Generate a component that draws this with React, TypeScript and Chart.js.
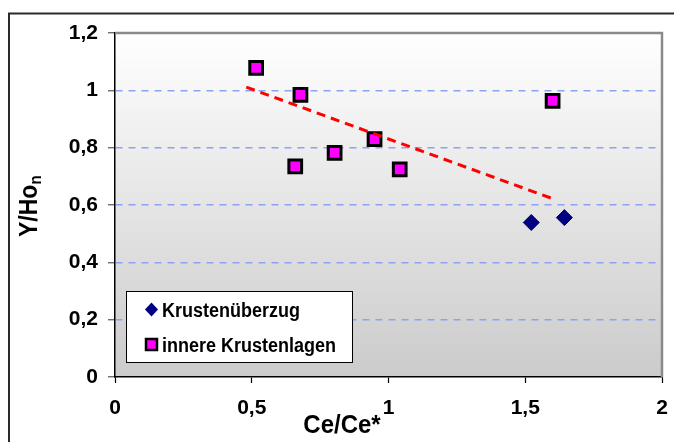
import React, { useEffect, useRef } from "react";
import { Chart, registerables } from "chart.js";

Chart.register(...registerables);

const seriesLabels = ["Krustenüberzug", "innere Krustenlagen"];
const krusteX = [1.522, 1.643];
const krusteY = [0.539, 0.556];
const innereX = [0.516, 0.678, 0.659, 0.803, 0.949, 1.041, 1.6];
const innereY = [1.078, 0.984, 0.735, 0.782, 0.83, 0.724, 0.963];
const trendX = [0.48, 1.6];
const trendY = [1.011, 0.622];
const xTicks = [0, 0.5, 1, 1.5, 2];
const yTicks = [0, 0.2, 0.4, 0.6, 0.8, 1, 1.2];
const xTitle = "Ce/Ce*";
const yTitleMain = "Y/Ho";
const yTitleSub = "n";

const FONT = "'Liberation Sans', Arial, sans-serif";
const fmt = (v: number) => String(v).replace(".", ",");
const pts = (xs: number[], ys: number[]) => xs.map((x, i) => ({ x, y: ys[i] }));

const decor = {
  id: "decor",
  beforeDraw(chart: any) {
    const { ctx, chartArea: a } = chart;
    ctx.save();
    ctx.fillStyle = "#ffffff";
    ctx.fillRect(0, 0, chart.width, chart.height);
    const g = ctx.createLinearGradient(0, a.top, 0, a.bottom);
    g.addColorStop(0, "#ffffff");
    g.addColorStop(1, "#cbcbcb");
    ctx.fillStyle = g;
    ctx.fillRect(a.left, a.top, a.right - a.left, a.bottom - a.top);
    ctx.restore();
  },
  beforeDatasetsDraw(chart: any) {
    const { ctx, chartArea: a } = chart;
    ctx.save();
    ctx.strokeStyle = "#8a8a8a";
    ctx.lineWidth = 2.5;
    ctx.beginPath();
    ctx.moveTo(a.left, a.top);
    ctx.lineTo(a.right, a.top);
    ctx.lineTo(a.right, a.bottom);
    ctx.stroke();
    ctx.restore();
  },
  afterDraw(chart: any) {
    const { ctx } = chart;
    ctx.save();
    // legend
    const lx = 126, ly = 291, lw = 226, lh = 71;
    ctx.fillStyle = "#ffffff";
    ctx.fillRect(lx, ly, lw, lh);
    ctx.strokeStyle = "#000000";
    ctx.lineWidth = 1;
    ctx.strokeRect(lx + 0.5, ly + 0.5, lw, lh);
    // diamond
    ctx.fillStyle = "#000080";
    ctx.beginPath();
    ctx.moveTo(151.5, 302.5);
    ctx.lineTo(158, 309.5);
    ctx.lineTo(151.5, 316.5);
    ctx.lineTo(145, 309.5);
    ctx.closePath();
    ctx.fill();
    // square
    ctx.fillStyle = "#ff00ff";
    ctx.fillRect(146, 339, 11, 11);
    ctx.strokeStyle = "#000000";
    ctx.lineWidth = 2.5;
    ctx.strokeRect(146, 339, 11, 11);
    ctx.fillStyle = "#000000";
    ctx.textAlign = "left";
    ctx.textBaseline = "alphabetic";
    const drawStretched = (t: string, x: number, y: number, font: string, sy: number) => {
      ctx.save();
      ctx.font = font;
      ctx.translate(x, y);
      ctx.scale(1, sy);
      ctx.fillText(t, 0, 0);
      ctx.restore();
    };
    drawStretched(seriesLabels[0], 162, 316.5, `bold 18px ${FONT}`, 1.08);
    drawStretched(seriesLabels[1], 162, 351.5, `bold 18px ${FONT}`, 1.08);

    // x title
    ctx.textAlign = "center";
    drawStretched(xTitle, 342, 433, `bold 24px ${FONT}`, 1.08);

    // y title with subscript
    ctx.save();
    ctx.translate(37, 237);
    ctx.rotate(-Math.PI / 2);
    ctx.scale(1, 1.1);
    ctx.textAlign = "left";
    ctx.font = `bold 23px ${FONT}`;
    ctx.fillText(yTitleMain, 0, 0);
    const w = ctx.measureText(yTitleMain).width;
    ctx.font = `bold 15px ${FONT}`;
    ctx.fillText(yTitleSub, w, 4);
    ctx.restore();

    // outer frame
    ctx.strokeStyle = "#2a2a2a";
    ctx.lineWidth = 2;
    ctx.beginPath();
    ctx.moveTo(9, chart.height + 5);
    ctx.lineTo(9, 13.5);
    ctx.lineTo(chart.width + 5, 13.5);
    ctx.stroke();
    ctx.restore();
  },
};

export default function App() {
  const ref = useRef<HTMLCanvasElement>(null);
  useEffect(() => {
    if (!ref.current) return;
    const chart = new Chart(ref.current, {
      type: "scatter",
      data: {
        datasets: [
          {
            type: "line",
            label: "Trend",
            data: pts(trendX, trendY),
            borderColor: "#ff0000",
            borderWidth: 3,
            borderDash: [9, 6],
            pointRadius: 0,
            fill: false,
          } as any,
          {
            label: seriesLabels[0],
            data: pts(krusteX, krusteY),
            pointStyle: "rectRot",
            pointRadius: 8,
            backgroundColor: "#000080",
            borderColor: "#000080",
            borderWidth: 1,
          },
          {
            label: seriesLabels[1],
            data: pts(innereX, innereY),
            pointStyle: "rect",
            pointRadius: 9,
            backgroundColor: "#ff00ff",
            borderColor: "#000000",
            borderWidth: 3,
          },
        ],
      },
      options: {
        animation: false,
        responsive: false,
        events: [],
        layout: { padding: { top: 33, right: 12, left: 0, bottom: 0 } },
        plugins: { legend: { display: false }, tooltip: { enabled: false } },
        scales: {
          x: {
            type: "linear",
            min: 0,
            max: 2,
            afterBuildTicks: (s: any) => {
              s.ticks = xTicks.map((v) => ({ value: v }));
            },
            afterFit: (s: any) => {
              s.height = 65;
              s.paddingLeft = 0;
              s.paddingRight = 0;
            },
            ticks: {
              callback: (v: any) => fmt(Number(v)),
              font: { family: FONT, size: 21, weight: "bold" },
              color: "#000000",
              padding: 13,
              maxRotation: 0,
            },
            grid: {
              drawOnChartArea: false,
              drawTicks: true,
              tickLength: 6,
              tickColor: "#000000",
              tickWidth: 1.2,
            },
            border: { display: true, color: "#000000", width: 1.5 },
          },
          y: {
            type: "linear",
            min: 0,
            max: 1.2,
            afterBuildTicks: (s: any) => {
              s.ticks = yTicks.map((v) => ({ value: v }));
            },
            afterFit: (s: any) => {
              s.width = 115;
              s.paddingTop = 0;
              s.paddingBottom = 0;
            },
            ticks: {
              callback: (v: any) => fmt(Number(v)),
              font: { family: FONT, size: 21, weight: "bold" },
              color: "#000000",
              padding: 10,
            },
            grid: {
              drawOnChartArea: true,
              drawTicks: true,
              tickLength: 7,
              tickColor: "#555555",
              tickWidth: 1.2,
              lineWidth: 1.5,
              color: (c: any) =>
                c.tick && (c.tick.value === 0 || c.tick.value === 1.2)
                  ? "rgba(0,0,0,0)"
                  : "#8ca2f2",
            },
            border: { display: true, color: "#000000", width: 1.5, dash: [7, 6] },
          },
        },
      },
      plugins: [decor],
    });
    return () => chart.destroy();
  }, []);
  return (
    <div style={{ position: "fixed", left: 0, top: 0, width: 674, height: 442 }}>
      <canvas ref={ref} width={674} height={442} style={{ width: 674, height: 442, display: "block" }} />
    </div>
  );
}
